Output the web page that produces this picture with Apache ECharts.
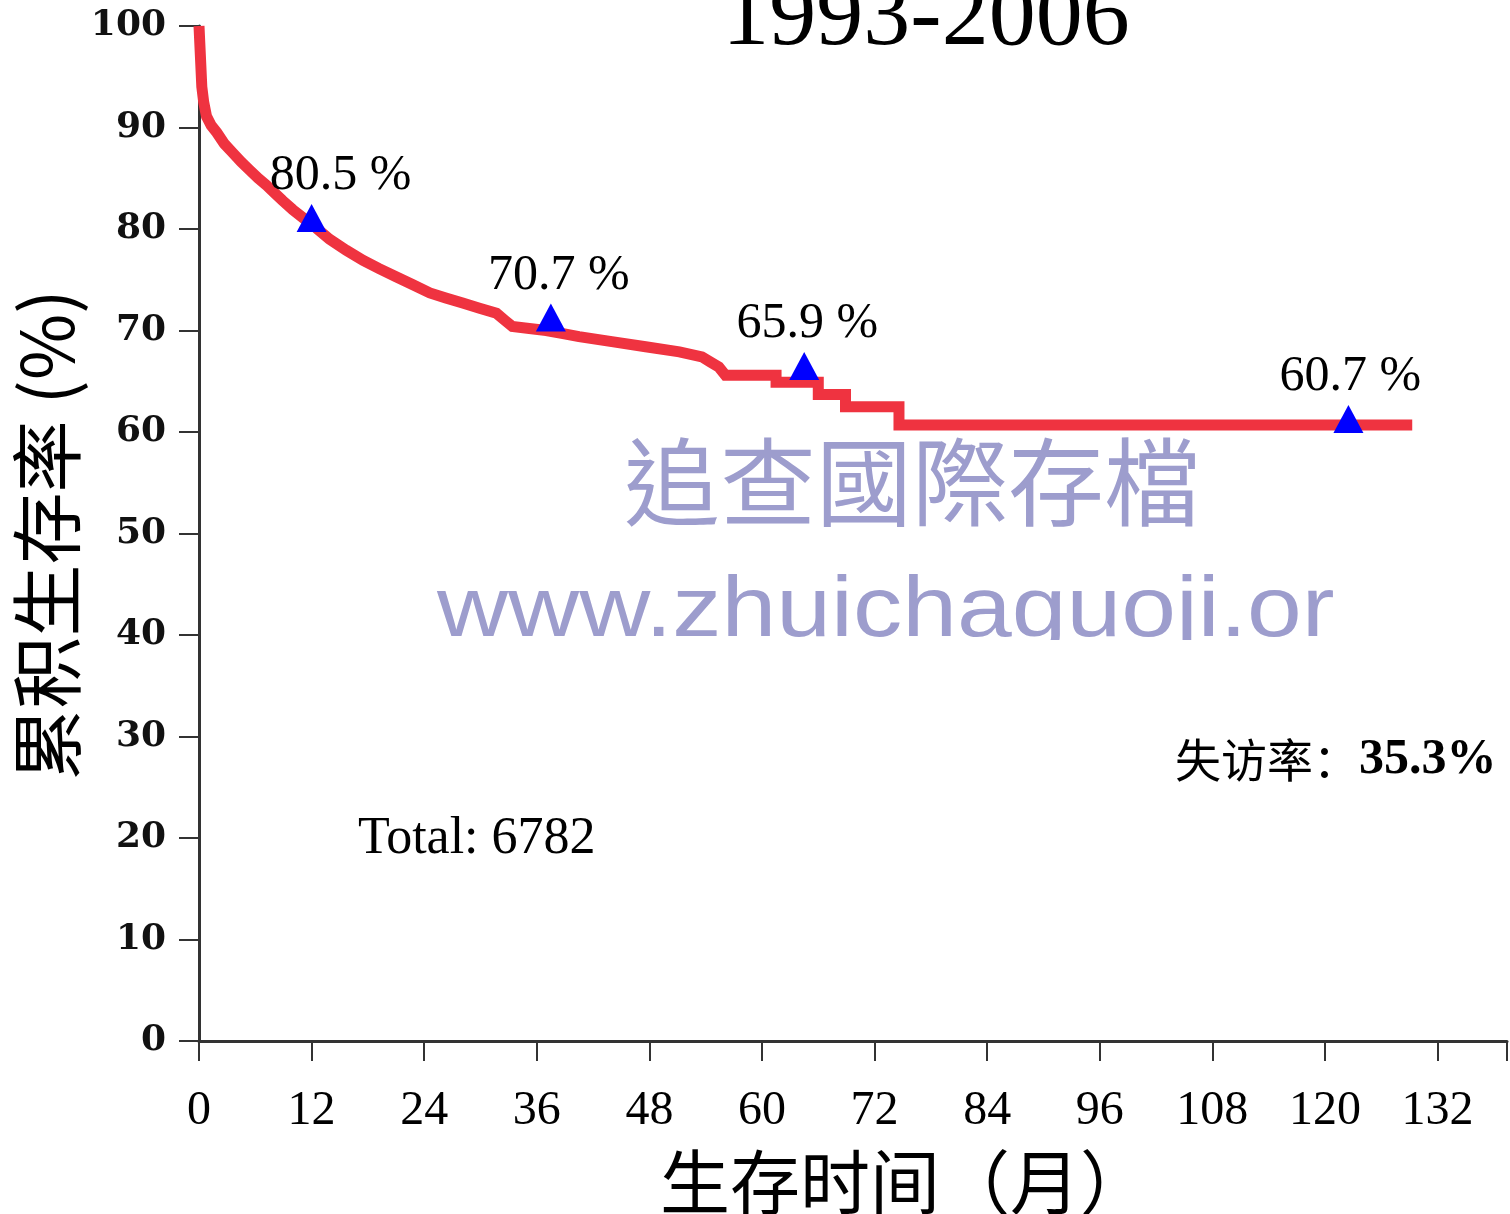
<!DOCTYPE html>
<html>
<head>
<meta charset="utf-8">
<script src="https://cdn.jsdelivr.net/npm/echarts@6/dist/echarts.min.js"></script>
<style>
  html, body { margin: 0; padding: 0; background: #fff; }
  #chart { width: 1510px; height: 1214px; }
</style>
</head>
<body>
<div id="chart"></div>
<script>
// survival curve vertices (months, cumulative survival %); repeated months are the drops
const months = [0, 0.1, 0.2, 0.3, 0.5, 0.8, 1.3, 1.9, 2.7, 3.6, 4.5, 5.4, 6.3, 7.2, 8.0, 8.9, 10.0, 11.1, 12.5, 13.9,
  15.7, 17.5, 19.2, 21.0, 22.8, 24.6, 26.3, 28.1, 29.9, 31.7, 32.6, 33.4, 35.2, 37.0, 38.8, 40.5, 44.0, 47.6,
  51.2, 53.6, 54.5, 55.4, 56.1, 61.5, 61.5, 66.0, 66.0, 68.9, 68.9, 74.6, 74.6, 129.3]
const survival = [100, 98, 96, 94, 92.5, 91.1, 90.2, 89.5, 88.4, 87.5, 86.6, 85.8, 85.0, 84.3, 83.6, 82.8, 81.9, 81.1, 80.1, 79.0,
  77.9, 76.9, 76.1, 75.3, 74.5, 73.7, 73.2, 72.7, 72.2, 71.7, 71.0, 70.4, 70.2, 70.0, 69.7, 69.4, 68.9, 68.4,
  67.9, 67.4, 66.9, 66.4, 65.6, 65.6, 64.9, 64.9, 63.7, 63.7, 62.5, 62.5, 60.7, 60.7]

// marked survival rates
const markMonths = [12, 37.5, 64.5, 122.5]
const markRates = [80.5, 70.7, 65.9, 60.7]
const markLabels = ['80.5 %', '70.7 %', '65.9 %', '60.7 %']

const xTicks = [0, 12, 24, 36, 48, 60, 72, 84, 96, 108, 120, 132]

const TITLE = '1993-2006'
const X_NAME = '生存时间（月）'
const Y_NAME = '累积生存率 (%)'
const TOTAL_TEXT = 'Total: 6782'
const LOSS_LABEL = '失访率：'
const LOSS_VALUE = '35.3%'
const WM_CN = '追查國際存檔'
const WM_URL = 'www.zhuichaguoji.or'

const RED = '#ef3340'
const AXIS = '#333'
const WM = '#9d9dcd'
const SERIF = '"Liberation Serif", "Times New Roman", serif'
const CJK = '"Noto Sans CJK SC", sans-serif'

const labelOffsets = [[29, 0], [8, 0], [3, 0], [2, 0]]

const chart = echarts.init(document.getElementById('chart'))

chart.setOption({
  animation: false,
  grid: { left: 199, right: 0, top: 26, bottom: 173 },
  xAxis: {
    type: 'value',
    min: 0,
    max: 139.4,
    interval: 12,
    splitLine: { show: false },
    axisLine: { lineStyle: { color: AXIS, width: 3 } },
    axisTick: { length: 20, lineStyle: { color: AXIS, width: 2 } },
    axisLabel: {
      color: '#000',
      fontFamily: SERIF,
      fontSize: 48,
      margin: 46,
      lineHeight: 48,
      formatter: (v) => (xTicks.includes(v) ? String(v) : ''),
    },
  },
  yAxis: {
    type: 'value',
    min: 0,
    max: 100,
    interval: 10,
    splitLine: { show: false },
    axisLine: { show: true, lineStyle: { color: AXIS, width: 3 } },
    axisTick: { show: true, length: 20, lineStyle: { color: AXIS, width: 2 } },
    axisLabel: {
      color: '#111',
      fontFamily: '"DejaVu Serif", serif',
      fontWeight: 'bold',
      fontSize: 36,
      margin: 33,
    },
  },
  series: [
    {
      type: 'line',
      data: months.map((m, i) => [m, survival[i]]),
      showSymbol: false,
      lineStyle: { color: RED, width: 11, cap: 'butt', join: 'miter' },
      z: 2,
    },
    {
      type: 'scatter',
      symbol: 'triangle',
      symbolSize: [30, 28],
      symbolOffset: [0, -6],
      itemStyle: { color: '#0000ff', opacity: 1 },
      data: markMonths.map((m, i) => ({
        value: [m, markRates[i]],
        label: { offset: labelOffsets[i] },
      })),
      label: {
        show: true,
        position: 'top',
        distance: 3,
        color: '#000',
        fontFamily: SERIF,
        fontSize: 50,
        formatter: (p) => markLabels[p.dataIndex],
      },
      z: 3,
    },
  ],
  graphic: [
    {
      type: 'text', x: 926, y: 19,
      style: { text: TITLE, font: '94px ' + SERIF, fill: '#000', textAlign: 'center', textVerticalAlign: 'middle' },
    },
    {
      type: 'text', x: 660, y: 1182,
      style: { text: X_NAME, font: '70px ' + CJK, fill: '#000', textAlign: 'left', textVerticalAlign: 'middle' },
    },
    {
      type: 'text', x: 47, y: 535, rotation: Math.PI / 2,
      style: { text: Y_NAME, font: '72px ' + CJK, fill: '#000', textAlign: 'center', textVerticalAlign: 'middle' },
    },
    {
      type: 'text', x: 358, y: 839,
      style: { text: TOTAL_TEXT, font: '52px ' + SERIF, fill: '#000', textAlign: 'left', textVerticalAlign: 'middle' },
    },
    {
      type: 'text', x: 1175, y: 760,
      style: {
        text: '{a|' + LOSS_LABEL + '}{b|' + LOSS_VALUE + '}',
        textAlign: 'left',
        textVerticalAlign: 'middle',
        rich: {
          a: { fontFamily: CJK, fontSize: 46, color: '#000' },
          b: { fontFamily: SERIF, fontSize: 50, fontWeight: 'bold', color: '#000' },
        },
      },
    },
    {
      type: 'text', x: 912, y: 482, z: 10,
      style: { text: WM_CN, font: '96px "Noto Sans CJK TC", sans-serif', fill: WM, textAlign: 'center', textVerticalAlign: 'middle' },
    },
    {
      type: 'text', x: 437, y: 569, scaleX: 1.145, z: 10,
      style: { text: WM_URL, font: '86px "Liberation Sans", Arial, sans-serif', fill: WM, textAlign: 'left', textVerticalAlign: 'top' },
    },
    {
      // the watermark is cut off just under its baseline
      type: 'rect', shape: { x: 425, y: 640, width: 930, height: 30 }, z: 11,
      style: { fill: '#fff' },
    },
  ],
})
</script>
</body>
</html>
